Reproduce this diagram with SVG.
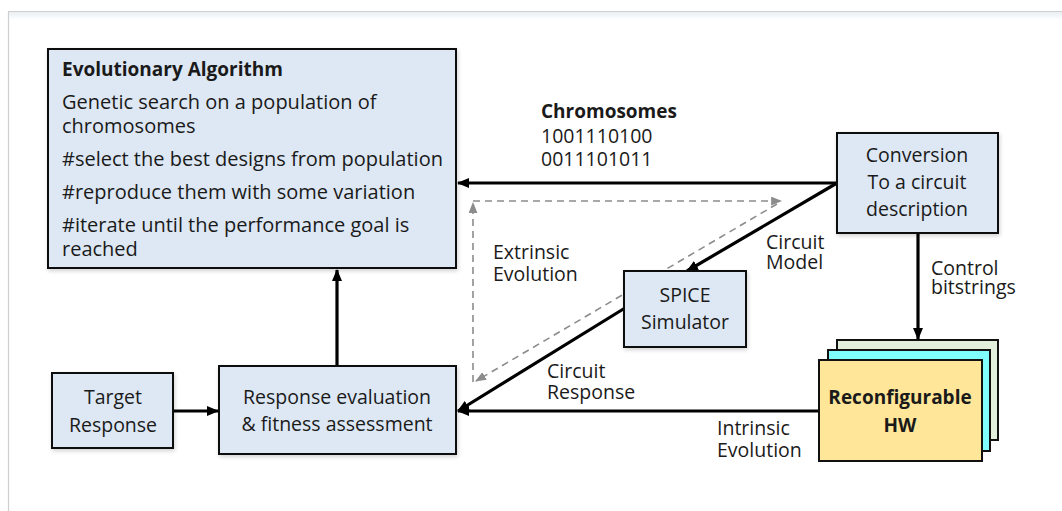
<svg xmlns="http://www.w3.org/2000/svg" width="1062" height="511" viewBox="0 0 1062 511">
  <style>
    .box { fill: #dde8f4; stroke: #111; stroke-width: 2; }
    .t { font-family: "Open Sans", "Liberation Sans", sans-serif; font-size: 19.5px; fill: #1a1a1a; }
    .body { font-size: 20px; }
    .b { font-weight: bold; font-size: 19px; }
    .m { text-anchor: middle; }
    .wire { fill: none; stroke: #000; stroke-width: 3.2; }
    .dash { fill: none; stroke: #8c8c8c; stroke-width: 1.6; stroke-dasharray: 7 5; }
  </style>
  <defs>
    <marker id="ah" viewBox="0 0 12 10" refX="11" refY="5" markerWidth="12" markerHeight="10" markerUnits="userSpaceOnUse" orient="auto">
      <path d="M0,0 L12,5 L0,10 Z" fill="#000"/>
    </marker>
    <marker id="ahg" viewBox="0 0 10 8" refX="9" refY="4" markerWidth="11" markerHeight="9" markerUnits="userSpaceOnUse" orient="auto">
      <path d="M0,0 L10,4 L0,8 Z" fill="#8c8c8c"/>
    </marker>
    <filter id="sh" x="-5%" y="-5%" width="115%" height="120%">
      <feGaussianBlur in="SourceAlpha" stdDeviation="2"/>
      <feOffset dx="1" dy="2" result="o"/>
      <feComponentTransfer><feFuncA type="linear" slope="0.18"/></feComponentTransfer>
      <feMerge><feMergeNode/><feMergeNode in="SourceGraphic"/></feMerge>
    </filter>
    <linearGradient id="frameTop" x1="0" y1="0" x2="0" y2="1">
      <stop offset="0" stop-color="#e8eef3"/>
      <stop offset="1" stop-color="#ffffff"/>
    </linearGradient>
  </defs>

  <rect width="1062" height="511" fill="#fff"/>
  <!-- page frame -->
  <rect x="9" y="12" width="1053" height="8" fill="url(#frameTop)"/>
  <path d="M8.5,511 V11.5 H1062" fill="none" stroke="#cfcfcf" stroke-width="1.2"/>

  <!-- dashed extrinsic loop, drawn under the simulator node -->
  <g id="connectors">
    <line class="dash" x1="473" y1="382" x2="473" y2="203" marker-end="url(#ahg)"/>
    <line class="dash" x1="473" y1="201" x2="781" y2="201" marker-end="url(#ahg)"/>
    <line class="dash" x1="777" y1="204" x2="476" y2="381" marker-end="url(#ahg)"/>

    <line class="wire" x1="837" y1="183" x2="458" y2="183" marker-end="url(#ah)"/>
    <line class="wire" x1="837" y1="183" x2="687" y2="271" marker-end="url(#ah)"/>
    <line class="wire" x1="918" y1="233" x2="918" y2="339" marker-end="url(#ah)"/>
    <line class="wire" x1="625" y1="308" x2="458" y2="411" marker-end="url(#ah)"/>
    <line class="wire" x1="819" y1="411" x2="458" y2="411" marker-end="url(#ah)"/>
    <line class="wire" x1="173" y1="411" x2="218" y2="411" marker-end="url(#ah)"/>
    <line class="wire" x1="337" y1="366" x2="337" y2="270" marker-end="url(#ah)"/>
  </g>

  <g id="ea">
    <rect class="box" x="48" y="49" width="408" height="219" filter="url(#sh)"/>
    <text class="t b" x="62" y="76">Evolutionary Algorithm</text>
    <text class="t body" x="62" y="109">Genetic search on a population of<tspan x="62" dy="24">chromosomes</tspan></text>
    <text class="t body" x="62" y="166">#select the best designs from population</text>
    <text class="t body" x="62" y="199">#reproduce them with some variation</text>
    <text class="t body" x="62" y="232">#iterate until the performance goal is<tspan x="62" dy="24">reached</tspan></text>
  </g>

  <g id="conversion">
    <rect class="box" x="837" y="133" width="161" height="100" filter="url(#sh)"/>
    <text class="t m" x="917" y="162">Conversion<tspan x="917" dy="27">To a circuit</tspan><tspan x="917" dy="27">description</tspan></text>
  </g>

  <g id="spice">
    <rect class="box" x="624" y="271" width="122" height="76" filter="url(#sh)"/>
    <text class="t m" x="685" y="302">SPICE<tspan x="685" dy="27">Simulator</tspan></text>
  </g>

  <g id="target">
    <rect class="box" x="52" y="373" width="121" height="75" filter="url(#sh)"/>
    <text class="t m" x="113" y="404">Target<tspan x="113" dy="28">Response</tspan></text>
  </g>

  <g id="evaluation">
    <rect class="box" x="219" y="366" width="237" height="88" filter="url(#sh)"/>
    <text class="t m" x="337" y="404">Response evaluation<tspan x="337" dy="27">&amp; fitness assessment</tspan></text>
  </g>

  <g id="hardware">
    <rect x="837" y="340" width="161" height="100" fill="#e2efda" stroke="#111" stroke-width="2"/>
    <rect x="828" y="350" width="162" height="101" fill="#80ffff" stroke="#111" stroke-width="2"/>
    <rect x="819" y="360" width="163" height="101" fill="#ffe699" stroke="#111" stroke-width="2"/>
    <text class="t b m" x="900" y="404">Reconfigurable<tspan x="900" dy="28">HW</tspan></text>
  </g>

  <g id="labels">
    <text class="t b" x="541" y="118">Chromosomes</text>
    <text class="t" x="541" y="143">1001110100<tspan x="541" dy="23">0011101011</tspan></text>
    <text class="t" x="766" y="249">Circuit<tspan x="766" dy="20">Model</tspan></text>
    <text class="t" x="931" y="275">Control<tspan x="931" dy="19">bitstrings</tspan></text>
    <text class="t" x="493" y="259">Extrinsic<tspan x="493" dy="22">Evolution</tspan></text>
    <text class="t" x="547" y="378">Circuit<tspan x="547" dy="21">Response</tspan></text>
    <text class="t" x="717" y="435">Intrinsic<tspan x="717" dy="22">Evolution</tspan></text>
  </g>
</svg>
